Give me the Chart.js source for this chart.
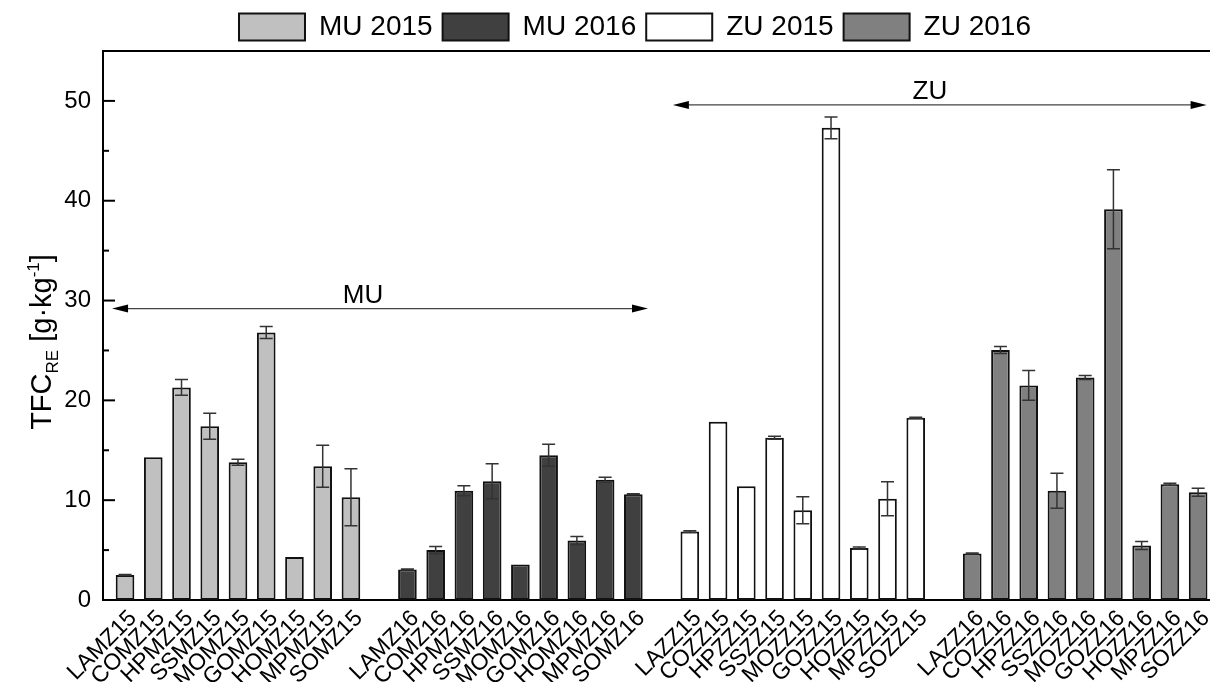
<!DOCTYPE html>
<html>
<head>
<meta charset="utf-8">
<script src="https://cdn.jsdelivr.net/npm/chart.js@4.4.0/dist/chart.umd.min.js"></script>
<style>
  html, body { margin: 0; padding: 0; background: #fff; }
</style>
</head>
<body>
<canvas id="tfcChart" width="1210" height="682"></canvas>
<script>
// sample names per group
const catsMU15 = ["LAMZ15", "COMZ15", "HPMZ15", "SSMZ15", "MOMZ15", "GOMZ15", "HOMZ15", "MPMZ15", "SOMZ15"];
const catsMU16 = ["LAMZ16", "COMZ16", "HPMZ16", "SSMZ16", "MOMZ16", "GOMZ16", "HOMZ16", "MPMZ16", "SOMZ16"];
const catsZU15 = ["LAZZ15", "COZZ15", "HPZZ15", "SSZZ15", "MOZZ15", "GOZZ15", "HOZZ15", "MPZZ15", "SOZZ15"];
const catsZU16 = ["LAZZ16", "COZZ16", "HPZZ16", "SSZZ16", "MOZZ16", "GOZZ16", "HOZZ16", "MPZZ16", "SOZZ16"];

// one empty slot between the groups
const categories = [...catsMU15, "", ...catsMU16, "", ...catsZU15, "", ...catsZU16];

// TFC_RE values [g/kg] and their errors
const mu2015 = [2.5, 14.3, 21.3, 17.4, 13.8, 26.8, 4.3, 13.4, 10.3];
const mu2015Err = [0.05, 0, 0.8, 1.3, 0.3, 0.6, 0, 2.1, 2.85];
const mu2016 = [3.05, 5.0, 10.95, 11.9, 3.55, 14.5, 5.95, 12.05, 10.6];
const mu2016Err = [0.05, 0.35, 0.5, 1.75, 0, 1.1, 0.4, 0.25, 0.05];
const zu2015 = [6.85, 17.85, 11.4, 16.25, 9.0, 47.3, 5.2, 10.15, 18.25];
const zu2015Err = [0.1, 0, 0, 0.15, 1.35, 1.1, 0.1, 1.7, 0.05];
const zu2016 = [4.67, 25.05, 21.5, 10.95, 22.3, 39.15, 5.47, 11.6, 10.8];
const zu2016Err = [0.05, 0.35, 1.5, 1.75, 0.2, 3.95, 0.4, 0.1, 0.4];

const yTicks = [0, 10, 20, 30, 40, 50];

// group arrows (in axis units)
const groupSpans = [
  { text: "MU", from: -0.46, to: 18.52, y: 29.2, mid: 8.43 },
  { text: "ZU", from: 19.4, to: 38.3, y: 49.6, mid: 28.5 }
];

const FONT = "'Liberation Sans', Arial, sans-serif";

function points(cats, vals, errs) {
  return cats.map((c, i) => ({ x: categories.indexOf(c), y: vals[i], err: errs[i] }));
}

function barSet(label, cats, vals, errs, fill) {
  return {
    label: label,
    data: points(cats, vals, errs),
    backgroundColor: fill,
    borderColor: "#111",
    borderWidth: 2,
    borderSkipped: false,
    barPercentage: 0.66,
    categoryPercentage: 1,
    grouped: false
  };
}

// error bars, inward ticks, frame, arrows, y title
const extras = {
  id: "extras",
  afterDatasetsDraw(chart) {
    const ctx = chart.ctx;
    const xs = chart.scales.x, ys = chart.scales.y;
    const area = chart.chartArea;
    ctx.save();

    // error bars
    ctx.strokeStyle = "#333";
    ctx.lineWidth = 1.5;
    chart.data.datasets.forEach((ds) => {
      ds.data.forEach((p) => {
        if (!p.err) return;
        const x = xs.getPixelForValue(p.x);
        const y1 = ys.getPixelForValue(p.y + p.err);
        const y2 = ys.getPixelForValue(p.y - p.err);
        ctx.beginPath();
        ctx.moveTo(x, y1); ctx.lineTo(x, y2);
        ctx.moveTo(x - 6.5, y1); ctx.lineTo(x + 6.5, y1);
        ctx.moveTo(x - 6.5, y2); ctx.lineTo(x + 6.5, y2);
        ctx.stroke();
      });
    });

    // top frame line
    ctx.strokeStyle = "#000";
    ctx.lineWidth = 2;
    ctx.beginPath();
    ctx.moveTo(area.left - 1, area.top);
    ctx.lineTo(area.right, area.top);
    ctx.stroke();

    // y ticks pointing inward
    ys.ticks.forEach((t) => {
      const y = ys.getPixelForValue(t.value);
      const len = t.value % 10 === 0 ? 12 : 6;
      ctx.beginPath();
      ctx.moveTo(area.left, y);
      ctx.lineTo(area.left + len, y);
      ctx.stroke();
    });

    // group arrows
    groupSpans.forEach((g) => {
      const x1 = xs.getPixelForValue(g.from);
      const x2 = xs.getPixelForValue(g.to);
      const y = ys.getPixelForValue(g.y);
      ctx.strokeStyle = "#444";
      ctx.lineWidth = 1.3;
      ctx.beginPath();
      ctx.moveTo(x1 + 10, y); ctx.lineTo(x2 - 10, y);
      ctx.stroke();
      ctx.fillStyle = "#000";
      ctx.beginPath();
      ctx.moveTo(x1, y); ctx.lineTo(x1 + 16, y - 4); ctx.lineTo(x1 + 16, y + 4); ctx.closePath();
      ctx.fill();
      ctx.beginPath();
      ctx.moveTo(x2, y); ctx.lineTo(x2 - 16, y - 4); ctx.lineTo(x2 - 16, y + 4); ctx.closePath();
      ctx.fill();
      ctx.font = "26px " + FONT;
      ctx.textAlign = "center";
      ctx.textBaseline = "alphabetic";
      ctx.fillText(g.text, xs.getPixelForValue(g.mid), y - 6);
    });

    // y axis title: TFC_RE [g·kg^-1]
    const big = "29px " + FONT, small = "17px " + FONT;
    const parts = [
      { t: "TFC", f: big, dy: 0 },
      { t: "RE", f: small, dy: 7 },
      { t: " [g\u00B7kg", f: big, dy: 0 },
      { t: "-1", f: small, dy: -12 },
      { t: "]", f: big, dy: 0 }
    ];
    let total = 0;
    parts.forEach((p) => { ctx.font = p.f; p.w = ctx.measureText(p.t).width; total += p.w; });
    ctx.translate(51, 342);
    ctx.rotate(-Math.PI / 2);
    ctx.fillStyle = "#000";
    ctx.textAlign = "left";
    ctx.textBaseline = "alphabetic";
    let cx = -total / 2;
    parts.forEach((p) => {
      ctx.font = p.f;
      ctx.fillText(p.t, cx, p.dy);
      cx += p.w;
    });
    ctx.restore();
  }
};

const tfcChart = new Chart(document.getElementById("tfcChart"), {
  type: "bar",
  data: {
    datasets: [
      barSet("MU 2015", catsMU15, mu2015, mu2015Err, "#c0c0c0"),
      barSet("MU 2016", catsMU16, mu2016, mu2016Err, "#404040"),
      barSet("ZU 2015", catsZU15, zu2015, zu2015Err, "#ffffff"),
      barSet("ZU 2016", catsZU16, zu2016, zu2016Err, "#808080")
    ]
  },
  options: {
    responsive: false,
    devicePixelRatio: 1,
    animation: false,
    layout: { padding: { top: 3, left: 60, right: 0, bottom: 0 } },
    plugins: {
      tooltip: { enabled: false },
      legend: {
        position: "top",
        align: "center",
        maxHeight: 49,
        labels: {
          boxWidth: 66,
          boxHeight: 27,
          padding: 10,
          color: "#000",
          font: { family: FONT, size: 28 }
        }
      }
    },
    scales: {
      x: {
        type: "linear",
        min: -0.78,
        max: 38.42,
        offset: false,
        afterBuildTicks: (scale) => {
          scale.ticks = categories
            .map((c, i) => ({ value: i }))
            .filter((t) => categories[t.value] !== "");
        },
        afterFit: (scale) => {
          scale.height = 82;
          scale.paddingLeft = 0;
          scale.paddingRight = 0;
        },
        grid: { display: false, drawTicks: false },
        border: { display: true, color: "#000", width: 2 },
        ticks: {
          autoSkip: false,
          minRotation: 45,
          maxRotation: 45,
          padding: 5,
          labelOffset: 8,
          color: "#000",
          font: { family: FONT, size: 23 },
          callback: (v) => categories[v]
        }
      },
      y: {
        min: 0,
        max: 55,
        afterFit: (scale) => { scale.width = 43; },
        grid: { display: false, drawTicks: false },
        border: { display: true, color: "#000", width: 2 },
        ticks: {
          stepSize: 5,
          padding: 12,
          color: "#000",
          font: { family: FONT, size: 24 },
          callback: (v) => (yTicks.includes(v) ? v : "")
        }
      }
    }
  },
  plugins: [extras]
});
</script>
</body>
</html>
